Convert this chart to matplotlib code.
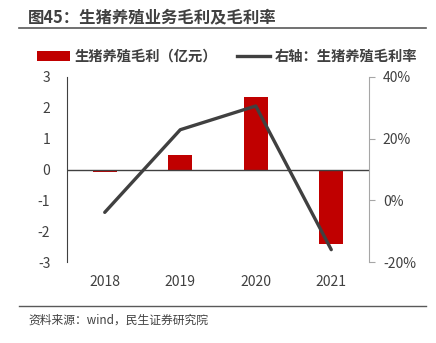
import numpy as np
import matplotlib
matplotlib.use('Agg')
import matplotlib.pyplot as plt
from matplotlib.lines import Line2D
from matplotlib.patches import Patch
from matplotlib.ticker import FuncFormatter

plt.rcParams['font.family'] = ['Noto Sans CJK SC', 'DejaVu Sans']
plt.rcParams['axes.unicode_minus'] = False

# 生猪养殖毛利及毛利率
years = ['2018', '2019', '2020', '2021']
gross_profit = [-0.09, 0.48, 2.36, -2.41]      # 亿元
gross_margin = [-3.9, 22.9, 30.6, -16.0]       # %

fig = plt.figure(figsize=(4.36, 3.43), dpi=100)
W, H = 436, 343

ax = fig.add_axes([67 / W, (H - 262) / H, (369 - 67) / W, (262 - 77) / H])
x = np.arange(len(years))
ax.bar(x, gross_profit, width=0.32, color='#C00000', zorder=2)
ax.axhline(0, color='#404040', lw=1.0, zorder=3)
ax.set_xlim(-0.5, 3.5)
ax.set_ylim(-3, 3)
ax.set_yticks(range(-3, 4))
ax.set_xticks(x)
ax.set_xticklabels(years)
ax.tick_params(axis='both', length=0, labelsize=10, colors='#404040', pad=9)
ax.tick_params(axis='y', pad=12)
for s in ['top', 'right', 'bottom']:
    ax.spines[s].set_visible(False)
ax.spines['left'].set_color('#404040')

ax2 = ax.twinx()
ax2.plot(x, gross_margin, color='#404040', lw=2.4, solid_capstyle='round', zorder=4)
ax2.set_ylim(-20, 40)
ax2.set_yticks([-20, 0, 20, 40])
ax2.yaxis.set_major_formatter(FuncFormatter(lambda v, p: f'{v:.0f}%'))
ax2.tick_params(axis='y', length=4, width=0.8, color='#A6A6A6', labelsize=10,
                labelcolor='#404040', pad=6)
for s in ['top', 'left', 'bottom']:
    ax2.spines[s].set_visible(False)
ax2.spines['right'].set_color('#A6A6A6')

# 标题与分隔线
fig.text(28 / W, 1 - 17 / H, '图45：生猪养殖业务毛利及毛利率', fontsize=11.8, fontweight='bold',
         color='#404040', va='center', ha='left')
fig.add_artist(Line2D([19 / W, 426 / W], [1 - 28 / H, 1 - 28 / H], color='#595959', lw=1.2))
fig.add_artist(Line2D([19 / W, 426 / W], [1 - 306 / H, 1 - 306 / H], color='#595959', lw=1.0))
fig.text(28 / W, 1 - 320 / H, '资料来源：wind，民生证券研究院', fontsize=8.5,
         color='#404040', va='center', ha='left')

handles = [Patch(facecolor='#C00000'),
           Line2D([0], [0], color='#404040', lw=2.4)]
labels = ['生猪养殖毛利（亿元）', '右轴：生猪养殖毛利率']
fig.legend(handles, labels, loc='center', bbox_to_anchor=(227 / W, 1 - 57 / H), ncol=2,
           frameon=False, prop={'size': 10.3, 'weight': 'bold'}, labelcolor='#404040',
           handlelength=2.3, handleheight=0.7, handletextpad=0.3, columnspacing=1.4)

fig.savefig('out.png', dpi=100)
